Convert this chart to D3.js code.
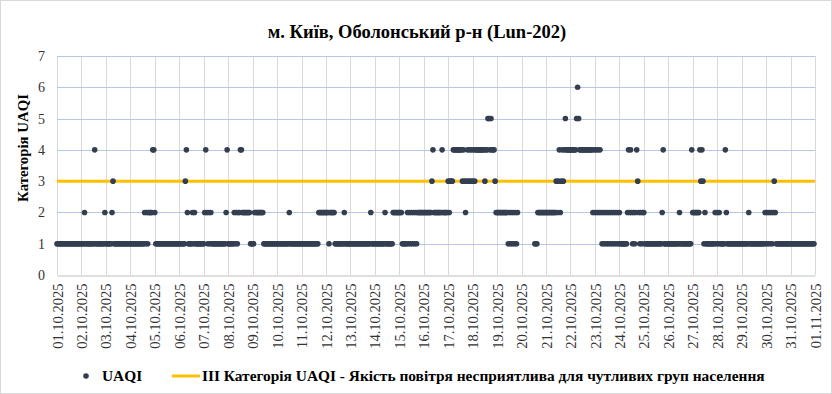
<!DOCTYPE html>
<html>
<head>
<meta charset="utf-8">
<script src="https://cdn.jsdelivr.net/npm/d3@7"></script>
<style>
  body { margin: 0; background: #fff; }
  svg { display: block; }
  svg text { font-family: "Liberation Serif", Tinos, "Times New Roman", Times, "DejaVu Serif", serif !important; }
</style>
</head>
<body>
<svg width="832" height="394"></svg>
<script>
// tick labels on the x axis (day boundaries)
var dayLabels = ['01.10.2025', '02.10.2025', '03.10.2025', '04.10.2025', '05.10.2025', '06.10.2025',
  '07.10.2025', '08.10.2025', '09.10.2025', '10.10.2025', '11.10.2025', '12.10.2025', '13.10.2025',
  '14.10.2025', '15.10.2025', '16.10.2025', '17.10.2025', '18.10.2025', '19.10.2025', '20.10.2025',
  '21.10.2025', '22.10.2025', '23.10.2025', '24.10.2025', '25.10.2025', '26.10.2025', '27.10.2025',
  '28.10.2025', '29.10.2025', '30.10.2025', '31.10.2025', '01.11.2025'];

// hourly UAQI category, one string of 24 hours per day ('-' = no data)
var uaqiByDay = [
  '111111111111111111111111',
  '111211111111141111111112',
  '111111231111111111111111',
  '111111111111112121222244',
  '211111111111111111111111',
  '111111342111121211111111',
  '124212121111111111111124',
  '111111212122442222222211',
  '112222222221111111111111',
  '111111111111211111111111',
  '111111111111111112222222',
  '222122222111111111211111',
  '111111111111111111112111',
  '111111111121111111222222',
  '222111112121212121222222',
  '222222223422222222422222',
  '323334444444443432343434',
  '343444444444344554544432',
  '222222222221212121212---',
  '-------------11122222222',
  '222222222232342343454444',
  '444444565444444444444424',
  '242424212121212121212121',
  '211111112424212124321212',
  '211111111111111111241111',
  '111111111112111111111114',
  '222222243431211111111121',
  '212111114211111111111111',
  '111111121111111111111112',
  '121212123211111111111111',
  '111111111111111111111111'
];

var yTicks = [0, 1, 2, 3, 4, 5, 6, 7];
var thresholdValue = 3;

var titleText = 'м. Київ, Оболонський р-н (Lun-202)';
var yTitleText = 'Категорія UAQI';
var seriesName = 'UAQI';
var thresholdName = 'III Категорія UAQI - Якість повітря несприятлива для чутливих груп населення';

var svg = d3.select('svg');
var margin = { top: 56, right: 17, bottom: 119, left: 57 };
var width = +svg.attr('width') - margin.left - margin.right;
var height = +svg.attr('height') - margin.top - margin.bottom;

var hoursTotal = (dayLabels.length - 1) * 24;

var points = [];
uaqiByDay.forEach(function(day, d) {
  day.split('').forEach(function(ch, h) {
    if (ch !== '-') points.push({ hour: d * 24 + h, value: +ch });
  });
});

// chart border
svg.append('rect')
  .attr('x', 0.5).attr('y', 0.5)
  .attr('width', 831).attr('height', 393)
  .attr('fill', '#fff')
  .attr('stroke', '#d9d9d9');

var g = svg.append('g')
  .attr('transform', 'translate(' + margin.left + ',' + margin.top + ')');

var scaleX = d3.scaleLinear()
  .domain([0, hoursTotal])
  .range([0, width]);

var scaleY = d3.scaleLinear()
  .domain([0, 7])
  .range([height, 0]);

// vertical grid
g.append('g')
  .selectAll('line')
  .data(dayLabels)
  .enter().append('line')
  .attr('x1', function(d, i) { return Math.round(scaleX(i * 24)) + 0.5; })
  .attr('x2', function(d, i) { return Math.round(scaleX(i * 24)) + 0.5; })
  .attr('y1', 0)
  .attr('y2', height)
  .attr('stroke', '#d9d9d9')
  .attr('stroke-width', 1);

// horizontal grid
g.append('g')
  .selectAll('line')
  .data(yTicks.slice(1))
  .enter().append('line')
  .attr('x1', 0)
  .attr('x2', width)
  .attr('y1', function(d) { return Math.round(scaleY(d)) + 0.5; })
  .attr('y2', function(d) { return Math.round(scaleY(d)) + 0.5; })
  .attr('stroke', '#b4c7e7')
  .attr('stroke-width', 1);

// x axis
var xAxis = d3.axisBottom(scaleX)
  .tickValues(dayLabels.map(function(d, i) { return i * 24; }))
  .tickFormat(function(d) { return dayLabels[d / 24]; })
  .tickSize(0)
  .tickPadding(0);

var gx = g.append('g')
  .attr('class', 'axis axis--x')
  .attr('transform', 'translate(0,' + (Math.round(height) + 0.5) + ')')
  .call(xAxis);
gx.select('.domain').attr('stroke', '#bfbfbf');
gx.selectAll('text')
  .attr('transform', 'rotate(-90)')
  .attr('x', -8)
  .attr('y', 0)
  .attr('dy', '0.35em')
  .style('text-anchor', 'end')
  .attr('fill', '#333')
  .style('font-size', '14.5px');

// y axis
var yAxis = d3.axisLeft(scaleY)
  .tickValues(yTicks)
  .tickFormat(d3.format('d'))
  .tickSize(0)
  .tickPadding(12);

var gy = g.append('g')
  .attr('class', 'axis axis--y')
  .call(yAxis);
gy.select('.domain').remove();
gy.selectAll('text')
  .attr('fill', '#333')
  .style('font-size', '14px');

// threshold line
g.append('line')
  .attr('x1', scaleX(0))
  .attr('x2', scaleX(hoursTotal))
  .attr('y1', scaleY(thresholdValue))
  .attr('y2', scaleY(thresholdValue))
  .attr('stroke', '#ffc000')
  .attr('stroke-width', 3);

// points
g.append('g')
  .selectAll('circle')
  .data(points)
  .enter().append('circle')
  .attr('cx', function(d) { return scaleX(d.hour); })
  .attr('cy', function(d) { return scaleY(d.value); })
  .attr('r', 2.8)
  .attr('fill', '#333f50');

// title
svg.append('text')
  .attr('x', 417)
  .attr('y', 37.5)
  .attr('text-anchor', 'middle')
  .style('font-size', '18.5px')
  .style('font-weight', 'bold')
  .attr('fill', '#000')
  .text(titleText);

// y title
svg.append('text')
  .attr('transform', 'translate(23,148) rotate(-90)')
  .attr('text-anchor', 'middle')
  .attr('dy', '0.35em')
  .style('font-size', '14.8px')
  .style('font-weight', 'bold')
  .attr('fill', '#000')
  .text(yTitleText);

// legend
var legend = svg.append('g').attr('transform', 'translate(0,376)');
legend.append('circle')
  .attr('cx', 86).attr('cy', 0).attr('r', 2.8)
  .attr('fill', '#333f50');
legend.append('text')
  .attr('x', 102).attr('y', 0).attr('dy', '0.35em')
  .style('font-size', '15.4px')
  .style('font-weight', 'bold')
  .text(seriesName);
legend.append('line')
  .attr('x1', 172).attr('x2', 200)
  .attr('y1', 0).attr('y2', 0)
  .attr('stroke', '#ffc000')
  .attr('stroke-width', 3);
legend.append('text')
  .attr('x', 202).attr('y', 0).attr('dy', '0.35em')
  .style('font-size', '15.4px')
  .style('font-weight', 'bold')
  .text(thresholdName);
</script>
</body>
</html>
